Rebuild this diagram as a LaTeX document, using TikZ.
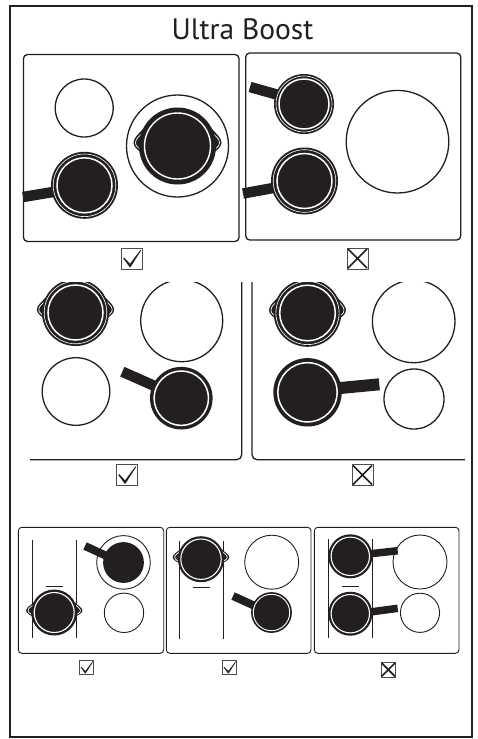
\documentclass[tikz,border=0pt]{standalone}
\usepackage{fontspec}
\setmainfont{PT Sans}
\definecolor{ink}{HTML}{231F20}
\tikzset{
  x=1pt,y=-1pt,
  panel/.style={draw=ink,line width=1.3pt,rounded corners=4pt},
  smallpanel/.style={draw=ink,line width=.9pt,rounded corners=3.5pt},
  hob/.style={draw=ink,line width=1.3pt,fill=white},
  smallhob/.style={draw=ink,line width=.9pt,fill=white},
  guide/.style={draw=ink,line width=.9pt},
  pan handle/.style={draw=ink,line cap=butt},
  tickbox/.style={draw=ink!80,line width=1pt,fill=white},
}
% pan: x y R r(white ring) ringwidth
\newcommand\panbody[5]{%
  \fill[ink] (#1,#2) circle[radius=#3];
  \draw[white,line width=#5pt] (#1,#2) circle[radius=#4];
}
% thin ring: x y radius
\newcommand\thinring[3]{\draw[white,line width=.6pt] (#1,#2) circle[radius=#3];}
% lugs: x y R L
\newcommand\onelug[3]{%
  \fill[ink] ({-.9*#1},{-.44*#1}) .. controls ({-1.0*#1},{-.32*#1}) and ({-#2},{-.22*#1}) .. ({-#2},{-.08*#1})
     .. controls ({-#2},{.03*#1}) and ({-1.0*#1},{.14*#1}) .. ({-.86*#1},{.22*#1}) -- cycle;
  \draw[white,line width=.7pt] ({-.9*#1},{-.34*#1}) .. controls ({-.98*#1},{-.26*#1}) and ({-#2+2},{-.2*#1}) .. ({-#2+2},{-.08*#1})
     .. controls ({-#2+2},{.02*#1}) and ({-.98*#1},{.08*#1}) .. ({-.86*#1},{.14*#1});
}
\newcommand\lugs[4]{%
  \begin{scope}[shift={(#1,#2)}]\onelug{#3}{#4}{}\end{scope}
  \begin{scope}[shift={(#1,#2)},xscale=-1]\onelug{#3}{#4}{}\end{scope}
}
\newcommand\tickmark[3]{%
  \begin{scope}[shift={(#1,#2)},scale=#3/21]
    \draw[tickbox] (0,0) rectangle (21,21);
    \fill[ink] (2.3,10.5) -- (3.3,9.7) -- (9,15.8) -- (19.5,1.8) -- (20.2,2.2) -- (9.6,19) -- (8.6,19) -- cycle;
  \end{scope}}
\newcommand\crossmark[3]{%
  \begin{scope}[shift={(#1,#2)},scale=#3/21]
    \draw[tickbox] (0,0) rectangle (21,21);
    \draw[ink,line width=1.7pt] (1,1) -- (20,20) (20,1) -- (1,20);
  \end{scope}}
\begin{document}
\begin{tikzpicture}
\useasboundingbox (0,0) rectangle (477,739);
\fill[white] (0,0) rectangle (477,739);
\draw[ink,line width=2.6pt] (10,6) rectangle (472,737);
\node[text=ink,font=\fontsize{29.5}{32}\selectfont,inner sep=0pt,anchor=base] (title) at (242.5,39) {Ultra Boost};

% ---- panel 1
\draw[panel] (23.5,54.5) rectangle (239,241.5);
\draw[hob] (84.2,108) circle[radius=29];
\draw[hob] (177.5,146) circle[radius=51];
\lugs{177.5}{146}{38.5}{44}
\panbody{177.5}{146}{38.5}{33}{1.4}
\draw[pan handle,line width=10.5pt] (23,197) -- (56,191.5);
\panbody{84.5}{185.3}{33.5}{27.5}{1.5}
\thinring{84.5}{185.3}{31.3}
\tickmark{121}{248}{21}

% ---- panel 2
\draw[panel] (245.7,53) rectangle (460.7,240);
\draw[pan handle,line width=10.5pt] (250,87) -- (282,96);
\panbody{304}{104}{30}{25}{1.5}
\thinring{304}{104}{28}
\draw[pan handle,line width=10.5pt] (243,193.5) -- (276,187.5);
\panbody{304.5}{181}{33.5}{27.5}{1.5}
\thinring{304.5}{181}{31.3}
\draw[hob] (397.5,141.7) circle[radius=51.3];
\crossmark{347}{248}{21}

% ---- panel 3
\lugs{75.5}{312.5}{33.5}{38.7}
\panbody{75.5}{312.5}{33.5}{27.5}{1.5}
\thinring{75.5}{312.5}{31.3}
\draw[hob] (181.7,320.7) circle[radius=41];
\draw[hob] (76,391.5) circle[radius=33.8];
\draw[pan handle,line width=10.5pt] (122.3,371.7) -- (158,387.5);
\panbody{181.3}{398.2}{31.3}{27.2}{1.5}
\fill[white] (25,271) rectangle (250,282);
\draw[panel,rounded corners=5pt] (241.7,282) -- (241.7,459.7) -- (30,459.7);
\tickmark{116}{464.5}{21}

% ---- panel 4
\lugs{307.5}{313}{33.8}{38.5}
\panbody{307.5}{313}{33.8}{27.8}{1.5}
\thinring{307.5}{313}{31.6}
\draw[hob] (413.7,321.4) circle[radius=41.3];
\draw[hob] (414,399) circle[radius=30];
\draw[pan handle,line width=12pt] (335,388.5) -- (379.3,384.3);
\panbody{307.5}{392.3}{34.2}{29.6}{1.5}
\fill[white] (250,271) rectangle (465,282);
\draw[panel,rounded corners=5pt] (252,282) -- (252,459.7) -- (465,459.7);
\crossmark{352}{464.5}{21}

% ---- panel 5
\draw[smallpanel] (18.3,527.3) rectangle (163.7,653.3);
\draw[guide] (32,540) -- (32,637.7);
\draw[guide] (76,540) -- (76,637.7);
\draw[guide] (45.7,586) -- (62.7,586);
\lugs{54.2}{612.5}{23}{28.2}
\panbody{54.2}{612.5}{23}{20}{1.1}
\draw[smallhob] (123.5,562.4) circle[radius=26.8];
\draw[pan handle,line width=8pt] (85,546) -- (110,557.5);
\fill[ink] (123.5,562.5) circle[radius=20.4];
\draw[smallhob] (124,612.8) circle[radius=19.7];
\tickmark{79}{660}{14.7}

% ---- panel 6
\draw[smallpanel] (166.3,527.3) rectangle (311,653.3);
\draw[guide] (179,541) -- (179,639);
\draw[guide] (223.3,541) -- (223.3,639);
\draw[guide] (192.7,587.3) -- (210,587.3);
\lugs{201}{559.2}{23}{28.3}
\panbody{201}{559.2}{23}{20.2}{1.1}
\draw[smallhob] (271.7,562.2) circle[radius=27];
\draw[pan handle,line width=8pt] (233,596) -- (256,606.5);
\panbody{271.5}{612.5}{20.4}{18.2}{.9}
\tickmark{222}{660}{14.7}

% ---- panel 7
\draw[smallpanel] (314.3,527.3) rectangle (459,653.3);
\draw[guide] (328,539.3) -- (328,637.7);
\draw[guide] (372.7,539.3) -- (372.7,637.7);
\draw[guide] (342,586) -- (359.3,586);
\draw[smallhob] (420,562) circle[radius=27];
\draw[smallhob] (420,612.8) circle[radius=19.6];
\draw[pan handle,line width=7.5pt] (368,554) -- (397.7,550.7);
\draw[pan handle,line width=7.5pt] (368,612.3) -- (397.7,608.3);
\panbody{350.3}{556.3}{22}{19.2}{1.1}
\panbody{350.3}{613.7}{22}{19.2}{1.1}
\crossmark{381}{662.3}{14.7}
\end{tikzpicture}
\end{document}
